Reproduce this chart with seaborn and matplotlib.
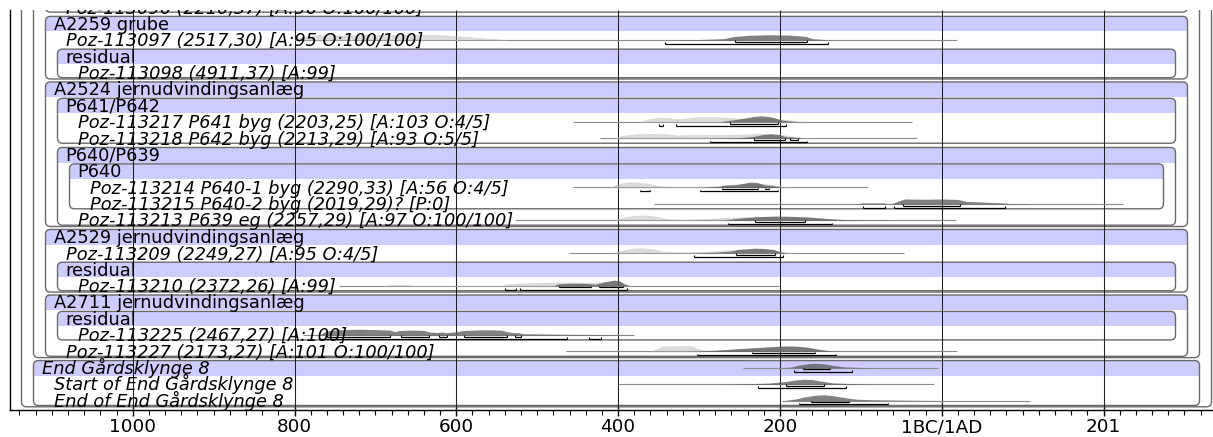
import matplotlib
matplotlib.use("Agg")
import matplotlib.pyplot as plt
from matplotlib.patches import FancyBboxPatch, Rectangle
import seaborn as sns

# ---------------------------------------------------------------- data
# row labels, top to bottom (row -1 is cut off by the top edge)
TOP_FRAGMENT = "Poz-113096 (2210,37) [A:96 O:100/100]"
ROW_LABELS = [
    "A2259 grube",
    "Poz-113097 (2517,30) [A:95 O:100/100]",
    "residual",
    "Poz-113098 (4911,37) [A:99]",
    "A2524 jernudvindingsanlæg",
    "P641/P642",
    "Poz-113217 P641 byg (2203,25) [A:103 O:4/5]",
    "Poz-113218 P642 byg (2213,29) [A:93 O:5/5]",
    "P640/P639",
    "P640",
    "Poz-113214 P640-1 byg (2290,33) [A:56 O:4/5]",
    "Poz-113215 P640-2 byg (2019,29)? [P:0]",
    "Poz-113213 P639 eg (2257,29) [A:97 O:100/100]",
    "A2529 jernudvindingsanlæg",
    "Poz-113209 (2249,27) [A:95 O:4/5]",
    "residual",
    "Poz-113210 (2372,26) [A:99]",
    "A2711 jernudvindingsanlæg",
    "residual",
    "Poz-113225 (2467,27) [A:100]",
    "Poz-113227 (2173,27) [A:101 O:100/100]",
    "End Gårdsklynge 8",
    "Start of End Gårdsklynge 8",
    "End of End Gårdsklynge 8",
]
ITALIC_HEADERS = ["End Gårdsklynge 8"]

# groups: (header row, last row) and nesting level
GROUP_SPANS = [(0, 3), (2, 3), (4, 12), (5, 7), (8, 12), (9, 11),
               (13, 16), (15, 16), (17, 20), (18, 19), (21, 23)]
GROUP_LEVELS = [3, 4, 3, 4, 4, 5, 3, 4, 3, 4, 2]
# enclosing boxes whose headers lie above the picture
OUTER_SPANS = [(-12, 20), (-12, 23), (-5, -1)]
OUTER_LEVELS = [2, 1, 3]

# x axis (calendar years, BC negative)
MAJOR_TICKS = [-1000, -800, -600, -400, -200, 0, 200]
TICK_LABELS = ["1000", "800", "600", "400", "200", "1BC/1AD", "201"]
MINOR_STEP = 20

# distributions: (year, height in rows); ranges: (from, to)
P113097_LIKE = [(-800, 0), (-790, 0.2), (-770, 0.3), (-740, 0.28), (-700, 0.3),
                (-660, 0.32), (-620, 0.3), (-590, 0.2), (-565, 0.1), (-545, 0.03), (-535, 0)]
P113097_POST = [(-345, 0), (-300, 0.03), (-270, 0.08), (-258, 0.2), (-240, 0.28),
                (-215, 0.32), (-190, 0.3), (-168, 0.22), (-160, 0.08), (-145, 0.03), (-135, 0)]
P113097_LINE = (-800, 19)
P113097_R68 = [(-256, -167)]
P113097_R95 = [(-342, -140)]

P113217_LIKE = [(-372, 0), (-362, 0.18), (-350, 0.26), (-338, 0.24), (-328, 0.16), (-315, 0.22),
                (-300, 0.3), (-280, 0.3), (-262, 0.24), (-240, 0.18), (-210, 0.2), (-190, 0.12), (-172, 0)]
P113217_POST = [(-275, 0), (-262, 0.1), (-245, 0.22), (-232, 0.34), (-222, 0.37),
                (-210, 0.3), (-198, 0.12), (-185, 0.04), (-172, 0)]
P113217_LINE = (-456, -37)
P113217_R68 = [(-262, -202)]
P113217_R95 = [(-350, -344), (-328, -193)]

P113218_LIKE = [(-405, 0), (-395, 0.15), (-380, 0.24), (-360, 0.28), (-340, 0.25), (-328, 0.18),
                (-300, 0.2), (-270, 0.2), (-245, 0.24), (-225, 0.28), (-205, 0.26), (-190, 0.15),
                (-175, 0.05), (-165, 0)]
P113218_POST = [(-290, 0), (-250, 0.04), (-232, 0.12), (-222, 0.22), (-212, 0.27), (-200, 0.22),
                (-193, 0.1), (-185, 0.08), (-178, 0.05), (-168, 0)]
P113218_LINE = (-422, -31)
P113218_R68 = [(-232, -194), (-187, -178)]
P113218_R95 = [(-287, -167)]

P113214_LIKE = [(-410, 0), (-400, 0.2), (-388, 0.33), (-375, 0.3), (-360, 0.2), (-348, 0.08),
                (-330, 0.04), (-290, 0.05), (-270, 0.12), (-250, 0.2), (-235, 0.25), (-220, 0.22),
                (-205, 0.12), (-195, 0.04), (-185, 0)]
P113214_POST = [(-300, 0), (-275, 0.06), (-270, 0.14), (-255, 0.17), (-245, 0.25), (-237, 0.33),
                (-228, 0.3), (-218, 0.15), (-210, 0.13), (-203, 0.05), (-195, 0)]
P113214_LINE = (-456, -91)
P113214_R68 = [(-272, -227), (-218, -213)]
P113214_R95 = [(-373, -361), (-299, -202)]

P113215_LIKE = [(-105, 0), (-98, 0.06), (-72, 0.06), (-66, 0), (-60, 0.05), (-52, 0.2),
                (-45, 0.3), (-20, 0.28), (0, 0.3), (20, 0.27), (30, 0.15), (55, 0.1),
                (78, 0.05), (85, 0.02), (100, 0.03), (113, 0)]
P113215_LINE = (-356, 224)
P113215_R68 = [(-48, 23)]
P113215_R95 = [(-97, -70), (-59, 78)]

P113213_LIKE = [(-405, 0), (-395, 0.15), (-380, 0.28), (-365, 0.3), (-350, 0.2), (-340, 0.08),
                (-320, 0.04), (-300, 0.06), (-280, 0.12), (-250, 0.18), (-230, 0.22), (-200, 0.2),
                (-170, 0.15), (-140, 0.08), (-120, 0)]
P113213_POST = [(-270, 0), (-262, 0.06), (-245, 0.15), (-225, 0.22), (-205, 0.26), (-185, 0.24),
                (-165, 0.2), (-140, 0.1), (-120, 0.04), (-90, 0.02), (-47, 0)]
P113213_LINE = (-527, 18)
P113213_R68 = [(-231, -169)]
P113213_R95 = [(-264, -136)]

P113209_LIKE = [(-405, 0), (-395, 0.15), (-383, 0.27), (-370, 0.3), (-355, 0.22), (-345, 0.08),
                (-320, 0.04), (-300, 0.06), (-280, 0.12), (-260, 0.18), (-240, 0.22), (-220, 0.22),
                (-205, 0.15), (-195, 0.05), (-185, 0)]
P113209_POST = [(-310, 0), (-280, 0.05), (-260, 0.12), (-252, 0.22), (-240, 0.26), (-232, 0.3),
                (-220, 0.28), (-208, 0.22), (-200, 0.08), (-190, 0)]
P113209_LINE = (-461, -46)
P113209_R68 = [(-254, -206)]
P113209_R95 = [(-306, -196)]

P113210_LIKE = [(-690, 0), (-680, 0.05), (-660, 0.05), (-652, 0), (-545, 0), (-535, 0.1),
                (-520, 0.15), (-500, 0.18), (-480, 0.2), (-460, 0.2), (-440, 0.18), (-420, 0.22),
                (-405, 0.3), (-395, 0.2), (-385, 0)]
P113210_POST = [(-480, 0), (-474, 0.12), (-460, 0.16), (-445, 0.16), (-433, 0.12), (-428, 0.1),
                (-420, 0.2), (-410, 0.3), (-405, 0.35), (-398, 0.3), (-392, 0.1), (-385, 0)]
P113210_LINE = (-745, -201)
P113210_R68 = [(-473, -433), (-424, -394)]
P113210_R95 = [(-540, -526), (-521, -389)]

P113225_POST = [(-770, 0), (-760, 0.25), (-745, 0.32), (-720, 0.35), (-700, 0.33), (-682, 0.3),
                (-676, 0.2), (-670, 0.28), (-655, 0.3), (-640, 0.28), (-633, 0.18), (-624, 0.15),
                (-618, 0.18), (-612, 0.14), (-600, 0.2), (-590, 0.28), (-565, 0.32), (-545, 0.3),
                (-537, 0.2), (-530, 0.15), (-523, 0.14), (-518, 0.08), (-480, 0.05), (-420, 0.03),
                (-382, 0)]
P113225_LINE = (-790, -380)
P113225_R68 = [(-760, -682), (-668, -634), (-621, -612), (-591, -537), (-527, -520)]
P113225_R95 = [(-770, -463), (-436, -421)]

P113227_LIKE = [(-360, 0), (-352, 0.15), (-345, 0.3), (-320, 0.33), (-308, 0.3), (-300, 0.12),
                (-285, 0.05), (-260, 0.1), (-240, 0.18), (-215, 0.28), (-195, 0.3), (-175, 0.28),
                (-160, 0.2), (-145, 0.06), (-130, 0)]
P113227_POST = [(-310, 0), (-290, 0.04), (-270, 0.1), (-250, 0.17), (-230, 0.22), (-210, 0.28),
                (-195, 0.33), (-180, 0.32), (-165, 0.25), (-152, 0.12), (-140, 0.05), (-125, 0)]
P113227_LINE = (-465, 19)
P113227_R68 = [(-235, -156)]
P113227_R95 = [(-303, -131)]

END_POST = [(-200, 0), (-185, 0.05), (-178, 0.15), (-165, 0.25), (-157, 0.28), (-145, 0.24),
            (-135, 0.15), (-120, 0.05), (-100, 0.02), (-80, 0)]
END_LINE = (-245, -5)
END_R68 = [(-172, -138)]
END_R95 = [(-183, -111)]

START_END_POST = [(-280, 0), (-250, 0.02), (-215, 0.06), (-195, 0.15), (-180, 0.26), (-170, 0.3),
                  (-160, 0.28), (-148, 0.18), (-135, 0.08), (-115, 0.04), (-100, 0.02), (-80, 0)]
START_END_LINE = (-400, -10)
START_END_R68 = [(-193, -146)]
START_END_R95 = [(-227, -118)]

END_END_POST = [(-195, 0), (-180, 0.1), (-170, 0.22), (-155, 0.33), (-145, 0.35), (-135, 0.3),
                (-120, 0.18), (-105, 0.08), (-85, 0.05), (-55, 0.03), (-20, 0.01), (0, 0)]
END_END_LINE = (-198, 109)
END_END_R68 = [(-161, -115)]
END_END_R95 = [(-176, -66)]

# row -> (light curve, dark curve, baseline span, 68% ranges, 95% ranges)
DATES = {
    1: (P113097_LIKE, P113097_POST, P113097_LINE, P113097_R68, P113097_R95),
    6: (P113217_LIKE, P113217_POST, P113217_LINE, P113217_R68, P113217_R95),
    7: (P113218_LIKE, P113218_POST, P113218_LINE, P113218_R68, P113218_R95),
    10: (P113214_LIKE, P113214_POST, P113214_LINE, P113214_R68, P113214_R95),
    11: (None, P113215_LIKE, P113215_LINE, P113215_R68, P113215_R95),
    12: (P113213_LIKE, P113213_POST, P113213_LINE, P113213_R68, P113213_R95),
    14: (P113209_LIKE, P113209_POST, P113209_LINE, P113209_R68, P113209_R95),
    16: (P113210_LIKE, P113210_POST, P113210_LINE, P113210_R68, P113210_R95),
    19: (None, P113225_POST, P113225_LINE, P113225_R68, P113225_R95),
    20: (P113227_LIKE, P113227_POST, P113227_LINE, P113227_R68, P113227_R95),
    21: (None, END_POST, END_LINE, END_R68, END_R95),
    22: (None, START_END_POST, START_END_LINE, START_END_R68, START_END_R95),
    23: (None, END_END_POST, END_END_LINE, END_END_R68, END_END_R95),
}

# ---------------------------------------------------------------- layout
W, H, DPI = 1213, 437, 100
AX_L, AX_R, AX_T, AX_B = 9.5, 1213, 10, 410      # axes edges, px
PX_PER_YEAR = 0.809
ZERO_PX = 941.7                                  # 1BC/1AD
ROW0_PX, ROW_PX = 16.7, 16.39
BAND = "#ccccff"
BOX_EC = "#6a6a6a"
FS = 12.8

BASE, BAR68, BAR95 = 0.42, 0.52, 0.65


def px_x(px):
    return (px - ZERO_PX) / PX_PER_YEAR


def box_left(level):
    return px_x(9.5 + 12 * level)


def box_right(level):
    return px_x(1223.5 - 12 * level)


XMIN, XMAX = px_x(AX_L), px_x(AX_R)
YTOP = (AX_T - ROW0_PX) / ROW_PX
YBOT = (AX_B - ROW0_PX) / ROW_PX

sns.set_theme(style="white")
plt.rcParams["font.family"] = ["DejaVu Sans"]

fig = plt.figure(figsize=(W / DPI, H / DPI), dpi=DPI)
ax = fig.add_axes([AX_L / W, 1 - AX_B / H, (AX_R - AX_L) / W, (AX_B - AX_T) / H])
ax.set_xlim(XMIN, XMAX)
ax.set_ylim(YBOT, YTOP)

# boxes
spans = GROUP_SPANS + OUTER_SPANS
levels = GROUP_LEVELS + OUTER_LEVELS
headers = [True] * len(GROUP_SPANS) + [False] * len(OUTER_SPANS)
RX = 5 / PX_PER_YEAR
ASPECT = (5 / ROW_PX) / RX
for (r0, r1), lev, head in zip(spans, levels, headers):
    inner = [l for (a, b), l in zip(spans, levels) if b == r1 and a >= r0 and l >= lev]
    bottom = r1 + 0.72 + 0.08 * (max(inner) - lev)
    top = r0 - 0.02
    x0, x1 = box_left(lev), box_right(lev)
    box = FancyBboxPatch((x0, top), x1 - x0, bottom - top,
                         boxstyle=f"round,pad=0,rounding_size={RX}",
                         mutation_aspect=ASPECT, fc="none", ec=BOX_EC, lw=1.0, zorder=2)
    ax.add_patch(box)
    if head:
        band = Rectangle((x0, top), x1 - x0, 0.92, fc=BAND, ec="none", zorder=1)
        ax.add_patch(band)
        band.set_clip_path(box)

# vertical grid lines
ax.vlines(MAJOR_TICKS, YTOP, YBOT, color="#202020", lw=0.75, zorder=3)

# distributions
for row, (like, post, line, r68, r95) in DATES.items():
    base = row + BASE
    ax.hlines(base, line[0], line[1], color="#8c8c8c", lw=0.8, zorder=4)
    if like is not None:
        t = [p[0] for p in like]
        h = [base - p[1] for p in like]
        ax.fill_between(t, base, h, color="#a8a8a8", alpha=0.4, lw=0.5,
                        edgecolor="#b8b8b8", zorder=4.2)
    t = [p[0] for p in post]
    h = [base - p[1] for p in post]
    ax.fill_between(t, base, h, color="#505050", alpha=0.72, lw=0, zorder=4.4)
    for y, ranges in ((row + BAR68, r68), (row + BAR95, r95)):
        for a, b in ranges:
            ax.hlines(y, a, b, color="black", lw=0.9, zorder=5)
            ax.vlines([a, b], y - 0.09, y, color="black", lw=0.8, zorder=5)

# labels
group_rows = {s[0]: l for s, l in zip(GROUP_SPANS, GROUP_LEVELS)}
for row, label in enumerate(ROW_LABELS):
    if row in group_rows:
        x = px_x(9.5 + 12 * group_rows[row] + 8)
        style = "italic" if label in ITALIC_HEADERS else "normal"
    else:
        lev = max(l for (a, b), l in zip(spans, levels) if a < row <= b)
        x = px_x(9.5 + 12 * lev + 21)
        style = "italic"
    ax.text(x, row + 0.8, label, fontsize=FS, style=style, ha="left",
            va="baseline", color="black", zorder=6, clip_on=True)
ax.text(px_x(9.5 + 12 * 3 + 21), -0.2, TOP_FRAGMENT, fontsize=FS, style="italic",
        ha="left", va="baseline", color="black", zorder=6, clip_on=True)

# axis
ax.set_xticks(MAJOR_TICKS, labels=TICK_LABELS)
minor = [v for v in range(-1140, 330, MINOR_STEP) if v not in MAJOR_TICKS]
ax.set_xticks(minor, minor=True)
ax.set_yticks([])
ax.tick_params(axis="x", which="both", bottom=True, colors="black")
ax.tick_params(axis="x", which="major", direction="inout", length=9, width=1.0,
               pad=1.5, labelsize=13.2)
ax.tick_params(axis="x", which="minor", direction="out", length=3.8, width=0.8)
for side in ("top", "right"):
    ax.spines[side].set_visible(False)
for side in ("left", "bottom"):
    ax.spines[side].set_color("black")
    ax.spines[side].set_linewidth(1.0)

fig.savefig("out.png", dpi=DPI)
